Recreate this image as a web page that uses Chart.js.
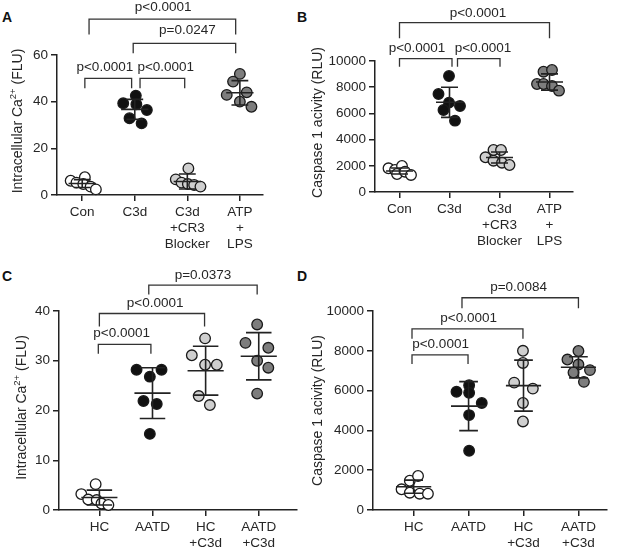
<!DOCTYPE html>
<html lang="en">
<head>
<meta charset="UTF-8">
<title>Intracellular Ca2+ and caspase 1 activity</title>
<script src="https://cdn.jsdelivr.net/npm/chart.js@4.4.1/dist/chart.umd.min.js"></script>
<style>
  html, body { margin: 0; padding: 0; background: #fff; }
  body { width: 618px; height: 554px; position: relative; overflow: hidden; }
  canvas { position: absolute; }
  .tag { position: absolute; font: bold 14px "Liberation Sans", Arial, sans-serif; line-height: 14px; color: #111; }
</style>
</head>
<body>
<div class="tag" style="left:2px;top:10px">A</div>
<div class="tag" style="left:297px;top:10px">B</div>
<div class="tag" style="left:2px;top:269px">C</div>
<div class="tag" style="left:297px;top:269px">D</div>
<canvas id="chartA" width="305" height="270" style="left:0;top:0"></canvas>
<canvas id="chartB" width="313" height="270" style="left:305px;top:0"></canvas>
<canvas id="chartC" width="305" height="284" style="left:0;top:270px"></canvas>
<canvas id="chartD" width="313" height="284" style="left:305px;top:270px"></canvas>
<script>
// ============================================
// Data
// ============================================

// ---- Panel A: intracellular Ca2+ (FLU) ----
const aLabels = ['Con', 'C3d', ['C3d', '+CR3', 'Blocker'], ['ATP', '+', 'LPS']];
const aCon     = [6.1, 5.3, 7.6, 4.7, 3.6, 2.4];
const aC3d     = [42.6, 39.3, 38.9, 36.4, 32.9, 30.7];
const aBlocker = [11.4, 6.7, 5.3, 4.7, 4.3, 3.6];
const aAtpLps  = [51.9, 48.6, 44.0, 42.9, 40.0, 37.8];
const aJitter = [
  [-0.22, -0.11, 0.05, 0.02, 0.16, 0.26],
  [0.02, -0.22, 0.03, 0.23, -0.10, 0.13],
  [0.02, -0.22, -0.11, 0.01, 0.13, 0.25],
  [0, -0.13, 0.13, -0.25, 0, 0.22]
];
const aMean = [4.9, 36.7, 5.8, 43.8];
const aSd   = [1.7, 4.3, 3.2, 5.2];
const aTicks = [0, 20, 40, 60];
// [from, to, bar y, leg end y, label, label x, label y]
const aBrackets = [
  [0.13, 2.92, 75.4, 68.8, 'p<0.0001', 1.54, 80.5],
  [0.97, 2.92, 65.0, 60.7, 'p=0.0247', 2.0, 70.7],
  [0.05, 0.94, 50.0, 45.7, 'p<0.0001', 0.43, 54.7],
  [1.10, 1.95, 50.0, 45.7, 'p<0.0001', 1.59, 54.7]
];

// ---- Panel B: caspase 1 activity (RLU) ----
const bLabels = ['Con', 'C3d', ['C3d', '+CR3', 'Blocker'], ['ATP', '+', 'LPS']];
const bCon     = [1810, 1680, 1985, 1375, 1550, 1300];
const bC3d     = [8855, 7480, 6820, 6565, 6260, 5445];
const bBlocker = [3205, 3205, 2650, 2390, 2235, 2060];
const bAtpLps  = [9185, 9315, 8245, 8245, 8090, 7735];
const bJitter = [
  [-0.22, -0.09, 0.05, -0.05, 0.11, 0.23],
  [-0.01, -0.22, -0.01, 0.21, -0.12, 0.11],
  [-0.12, 0.03, -0.28, -0.12, 0.05, 0.20],
  [-0.12, 0.05, -0.25, -0.12, 0.05, 0.19]
];
const bMean = [1600, 6850, 2630, 8400];
const bSd   = [230, 1150, 420, 620];
const bTicks = [0, 2000, 4000, 6000, 8000, 10000];
const bBrackets = [
  [0, 3, 12925, 11733, 'p<0.0001', 1.57, 13640],
  [0, 1.05, 10177, 9566, 'p<0.0001', 0.35, 10970],
  [1.16, 2.01, 10177, 9566, 'p<0.0001', 1.67, 10970]
];

// ---- Panel C: intracellular Ca2+ (FLU), HC vs AATD ----
const cLabels = ['HC', 'AATD', ['HC', '+C3d'], ['AATD', '+C3d']];
const cHc      = [3.2, 5.2, 2.1, 2.0, 1.3, 1.0];
const cAatd    = [28.2, 28.2, 26.8, 21.9, 21.3, 15.3];
const cHcC3d   = [34.5, 31.1, 29.2, 29.2, 22.9, 21.1];
const cAatdC3d = [37.3, 33.6, 32.6, 30.0, 28.6, 23.4];
const cJitter = [
  [-0.34, -0.07, -0.21, -0.05, 0.04, 0.17],
  [-0.30, 0.17, -0.05, -0.17, 0.08, -0.05],
  [-0.01, -0.26, -0.01, 0.21, -0.13, 0.08],
  [-0.03, -0.25, 0.18, -0.03, 0.18, -0.03]
];
const cMean = [2.5, 23.5, 28.0, 30.9];
const cSd   = [1.5, 5.1, 4.9, 4.75];
const cTicks = [0, 10, 20, 30, 40];
const cBrackets = [
  [-0.02, 0.97, 33.3, 31.4, 'p<0.0001', 0.42, 35.5],
  [0, 1.98, 39.5, 36.9, 'p<0.0001', 1.05, 41.5],
  [0.93, 2.97, 45.2, 43.3, 'p=0.0373', 1.95, 47.2]
];

// ---- Panel D: caspase 1 activity (RLU), HC vs AATD ----
const dLabels = ['HC', 'AATD', ['HC', '+C3d'], ['AATD', '+C3d']];
const dHc      = [1040, 1470, 1710, 870, 820, 820];
const dAatd    = [5940, 6270, 5890, 5380, 4770, 2980];
const dHcC3d   = [8000, 7390, 6400, 6100, 5380, 4450];
const dAatdC3d = [7990, 7560, 7310, 7030, 6910, 6440];
const dJitter = [
  [-0.22, -0.07, 0.08, -0.07, 0.11, 0.26],
  [-0.22, 0.01, 0.01, 0.24, 0.01, 0.01],
  [-0.01, -0.01, -0.17, 0.17, -0.01, -0.01],
  [0, -0.20, 0, 0.21, -0.09, 0.10]
];
const dMean = [1170, 5220, 6250, 7170];
const dSd   = [330, 1230, 1280, 530];
const dTicks = [0, 2000, 4000, 6000, 8000, 10000];
const dBrackets = [
  [-0.03, 0.99, 7800, 7333, 'p<0.0001', 0.49, 8350],
  [-0.03, 1.99, 9100, 8600, 'p<0.0001', 1.0, 9650],
  [0.88, 3.0, 10667, 10133, 'p=0.0084', 1.91, 11190]
];

// ============================================
// Shared styling
// ============================================
const FONT = '"Liberation Sans", Arial, sans-serif';
const INK = '#222';
const TEXT = '#262626';
const FILLS = ['#ffffff', '#111111', '#cfcfcf', '#7d7d7d'];

// mean line + SD whiskers, drawn over the points
const errorBars = {
  id: 'errorBars',
  afterDatasetsDraw(chart, args, opts) {
    const { ctx, scales: { x, y } } = chart;
    ctx.save();
    ctx.strokeStyle = INK;
    ctx.lineWidth = 1.6;
    opts.mean.forEach((m, g) => {
      const cx = x.getPixelForValue(g);
      const my = y.getPixelForValue(m);
      const top = y.getPixelForValue(m + opts.sd[g]);
      const bot = y.getPixelForValue(m - opts.sd[g]);
      const hw = x.getPixelForValue(g + opts.meanHalf) - cx;
      const cw = x.getPixelForValue(g + opts.capHalf) - cx;
      ctx.beginPath();
      ctx.moveTo(cx - hw, my); ctx.lineTo(cx + hw, my);
      ctx.moveTo(cx, top); ctx.lineTo(cx, bot);
      ctx.moveTo(cx - cw, top); ctx.lineTo(cx + cw, top);
      ctx.moveTo(cx - cw, bot); ctx.lineTo(cx + cw, bot);
      ctx.stroke();
    });
    ctx.restore();
  }
};

// significance brackets above the plot
const sigBrackets = {
  id: 'sigBrackets',
  afterDraw(chart, args, opts) {
    const { ctx, scales: { x, y } } = chart;
    ctx.save();
    ctx.strokeStyle = '#333';
    ctx.lineWidth = 1.3;
    ctx.fillStyle = TEXT;
    ctx.font = '13.5px ' + FONT;
    ctx.textAlign = 'center';
    ctx.textBaseline = 'middle';
    opts.items.forEach(([x1, x2, yBar, yLeg, label, tx, ty]) => {
      const px1 = x.getPixelForValue(x1), px2 = x.getPixelForValue(x2);
      const pyBar = y.getPixelForValue(yBar), pyLeg = y.getPixelForValue(yLeg);
      ctx.beginPath();
      ctx.moveTo(px1, pyLeg); ctx.lineTo(px1, pyBar);
      ctx.lineTo(px2, pyBar); ctx.lineTo(px2, pyLeg);
      ctx.stroke();
      ctx.fillText(label, x.getPixelForValue(tx), y.getPixelForValue(ty));
    });
    ctx.restore();
  }
};

// rotated y title, with optional superscript piece
const yTitle = {
  id: 'yTitle',
  afterDraw(chart, args, opts) {
    const { ctx, chartArea } = chart;
    const main = '14px ' + FONT, sup = '9.5px ' + FONT;
    ctx.save();
    ctx.fillStyle = TEXT;
    ctx.textBaseline = 'middle';
    let total = 0;
    opts.parts.forEach(p => { ctx.font = p.sup ? sup : main; total += ctx.measureText(p.t).width; });
    ctx.translate(chartArea.left - opts.offset, (chartArea.top + chartArea.bottom) / 2 + opts.shift);
    ctx.rotate(-Math.PI / 2);
    let cur = -total / 2;
    opts.parts.forEach(p => {
      ctx.font = p.sup ? sup : main;
      ctx.fillText(p.t, cur, p.sup ? -5 : 0);
      cur += ctx.measureText(p.t).width;
    });
    ctx.restore();
  }
};

const buildPanel = (id, o) => {
  const tickFont = { family: FONT, size: 13.5 };
  return new Chart(document.getElementById(id), {
    type: 'scatter',
    data: {
      datasets: o.groups.map((vals, g) => ({
        data: vals.map((v, i) => ({ x: g + o.jitter[g][i], y: v })),
        backgroundColor: FILLS[g],
        borderColor: '#1a1a1a',
        borderWidth: 1.3,
        pointRadius: 5.3,
        pointHoverRadius: 5.3,
        clip: false
      }))
    },
    options: {
      responsive: false,
      animation: false,
      events: [],
      layout: { padding: o.padding },
      plugins: {
        legend: { display: false },
        tooltip: { enabled: false },
        errorBars: { mean: o.mean, sd: o.sd, meanHalf: o.meanHalf, capHalf: o.capHalf },
        sigBrackets: { items: o.brackets },
        yTitle: { parts: o.title, offset: o.titleOffset, shift: o.titleShift }
      },
      scales: {
        x: {
          type: 'linear',
          min: o.xRange[0],
          max: o.xRange[1],
          afterBuildTicks: s => { s.ticks = o.labels.map((_, i) => ({ value: i })); },
          afterFit: s => { s.height = o.xHeight; },
          ticks: { callback: v => o.labels[v], font: tickFont, color: TEXT, padding: 3, maxRotation: 0, autoSkip: false },
          grid: { drawOnChartArea: false, tickLength: 6, color: INK, lineWidth: 1.5 },
          border: { color: INK, width: 1.5 }
        },
        y: {
          min: 0,
          max: o.ticks[o.ticks.length - 1],
          afterBuildTicks: s => { s.ticks = o.ticks.map(v => ({ value: v })); },
          afterFit: s => { s.width = o.yWidth; },
          ticks: { font: tickFont, color: TEXT, padding: 3, callback: v => String(v) },
          grid: { drawOnChartArea: false, tickLength: 6, color: INK, lineWidth: 1.5 },
          border: { color: INK, width: 1.5 }
        }
      }
    },
    plugins: [errorBars, sigBrackets, yTitle]
  });
};

const caTitle = [{ t: 'Intracellular Ca' }, { t: '2+', sup: true }, { t: ' (FLU)' }];
const caspTitle = [{ t: 'Caspase 1 acivity (RLU)' }];

buildPanel('chartA', {
  labels: aLabels, groups: [aCon, aC3d, aBlocker, aAtpLps], jitter: aJitter,
  mean: aMean, sd: aSd, ticks: aTicks, brackets: aBrackets,
  xRange: [-0.48, 3.44], padding: { top: 55, right: 42, left: 0, bottom: 0 },
  yWidth: 57, xHeight: 75, meanHalf: 0.26, capHalf: 0.16,
  title: caTitle, titleOffset: 39, titleShift: -4
});

buildPanel('chartB', {
  labels: bLabels, groups: [bCon, bC3d, bBlocker, bAtpLps], jitter: bJitter,
  mean: bMean, sd: bSd, ticks: bTicks, brackets: bBrackets,
  xRange: [-0.49, 3.47], padding: { top: 61, right: 45, left: 0, bottom: 0 },
  yWidth: 70, xHeight: 78, meanHalf: 0.27, capHalf: 0.17,
  title: caspTitle, titleOffset: 57, titleShift: -4
});

buildPanel('chartC', {
  labels: cLabels, groups: [cHc, cAatd, cHcC3d, cAatdC3d], jitter: cJitter,
  mean: cMean, sd: cSd, ticks: cTicks, brackets: cBrackets,
  xRange: [-0.76, 3.72], padding: { top: 41, right: 8, left: 0, bottom: 0 },
  yWidth: 59, xHeight: 44, meanHalf: 0.34, capHalf: 0.24,
  title: caTitle, titleOffset: 37, titleShift: -3
});

buildPanel('chartD', {
  labels: dLabels, groups: [dHc, dAatd, dHcC3d, dAatdC3d], jitter: dJitter,
  mean: dMean, sd: dSd, ticks: dTicks, brackets: dBrackets,
  xRange: [-0.74, 3.52], padding: { top: 41, right: 11, left: 0, bottom: 0 },
  yWidth: 68, xHeight: 44, meanHalf: 0.32, capHalf: 0.17,
  title: caspTitle, titleOffset: 55, titleShift: 0
});
</script>
</body>
</html>
